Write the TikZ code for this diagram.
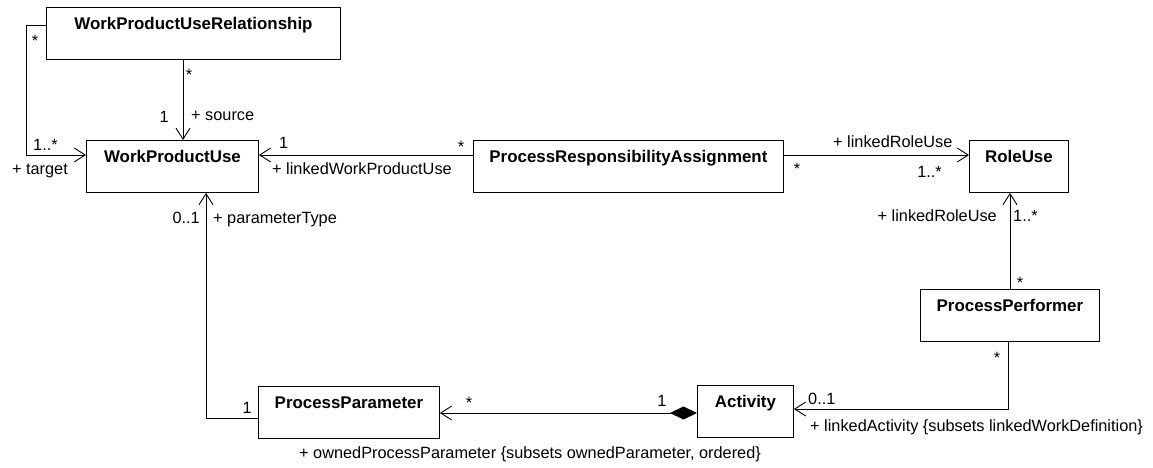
\documentclass[tikz,border=0pt]{standalone}
\usepackage{fontspec}
\setmainfont{Liberation Sans}
\usepackage{tikz}
\usetikzlibrary{arrows.meta,shapes,positioning,calc}

\tikzset{
	cls/.style={draw,line width=0.9pt,rectangle,inner sep=0pt,anchor=north west,
		font=\bfseries\fontsize{16.9}{18}\selectfont,text height=22pt,text depth=30pt},
	assoc/.style={line width=0.9pt},
	nav/.style={-{Straight Barb[length=11pt,width=14pt,line width=0.9pt]}},
	lab/.style={font=\fontsize{16.3}{18}\selectfont,inner sep=0pt}
}

\begin{document}
\begin{tikzpicture}[x=1pt,y=-1pt]
\useasboundingbox (0,0) rectangle (1153,468);
\node[cls,minimum width=294pt] (wpur) at (46,7) {WorkProductUseRelationship};
\node[cls,minimum width=172pt] (wpu) at (86,140) {WorkProductUse};
\node[cls,minimum width=310pt] (pra) at (473,140) {ProcessResponsibilityAssignment};
\node[cls,minimum width=99pt] (role) at (969,140) {RoleUse};
\node[cls,minimum width=179pt] (perf) at (920,289) {ProcessPerformer};
\node[cls,minimum width=181pt] (param) at (258,386) {ProcessParameter};
\node[cls,minimum width=96pt] (act) at (697,385) {Activity};
	\path (26,25) coordinate(bend1)
        (26,155) coordinate(bend2)
        (183,100) coordinate(src)
        (1010,240) coordinate(rl)
        (1008,409) coordinate(bend4)
        (560,413) coordinate(cmp)
        (206,418) coordinate(bend3);
	\draw[assoc,nav] (wpur.west |- bend1) -- (bend1) -- (bend2) -- (wpu.west |- bend2);
	\draw[assoc,nav] (wpur.south -| src) -- (wpu.north -| src);
	\draw[assoc,nav] (pra.west |- bend2) -- (wpu.east |- bend2);
	\draw[assoc,nav] (pra.east |- bend2) -- (role.west |- bend2);
	\draw[assoc,nav] (perf.north -| rl) -- (role.south -| rl);
	\draw[assoc,nav] (perf.south -| bend4) -- (bend4) -- (act.east |- bend4);
	\draw[assoc,{Diamond[length=27pt,width=13pt]}-{Straight Barb[length=11pt,width=14pt,line width=0.9pt]}]
        (act.west |- cmp) -- (param.east |- cmp);
	\draw[assoc,nav] (param.west |- bend3) -- (bend3) -- (wpu.south -| bend3);
\node[lab,anchor=base] (m1) at (35,47) {*};
\node[lab,anchor=base west] (m2) at (33,150) {1..*};
\node[lab,anchor=base east] (r1) at (68,174) {+ target};
\node[lab,anchor=base] (m3) at (189,81) {*};
\node[lab,anchor=base east] (m4) at (169,123) {1};
\node[lab,anchor=base west] (r2) at (191,121) {+ source};
\node[lab,anchor=base west] (m5) at (279,148) {1};
\node[lab,anchor=base west] (r3) at (272,174) {+ linkedWorkProductUse};
\node[lab,anchor=base] (m6) at (461,152) {*};
\node[lab,anchor=base] (m7) at (797,174) {*};
\node[lab,anchor=base west] (r4) at (833,147) {+ linkedRoleUse};
\node[lab,anchor=base east] (m8) at (942,177) {1..*};
\node[lab,anchor=base east] (r5) at (997,221) {+ linkedRoleUse};
\node[lab,anchor=base west] (m9) at (1013,221) {1..*};
\node[lab,anchor=base] (m10) at (1020,288) {*};
\node[lab,anchor=base] (m11) at (997,363) {*};
\node[lab,anchor=base west] (m12) at (808,404) {0..1};
\node[lab,anchor=base west] (r6) at (810,431) {+ linkedActivity \{subsets linkedWorkDefinition\}};
\node[lab,anchor=base] (m13) at (662,406) {1};
\node[lab,anchor=base] (m14) at (469,408) {*};
\node[lab,anchor=base west] (r7) at (299,458) {+ ownedProcessParameter \{subsets ownedParameter, ordered\}};
\node[lab,anchor=base east] (m15) at (252,413) {1};
\node[lab,anchor=base east] (m16) at (200,223) {0..1};
\node[lab,anchor=base west] (r8) at (213,223) {+ parameterType};
\end{tikzpicture}
\end{document}
